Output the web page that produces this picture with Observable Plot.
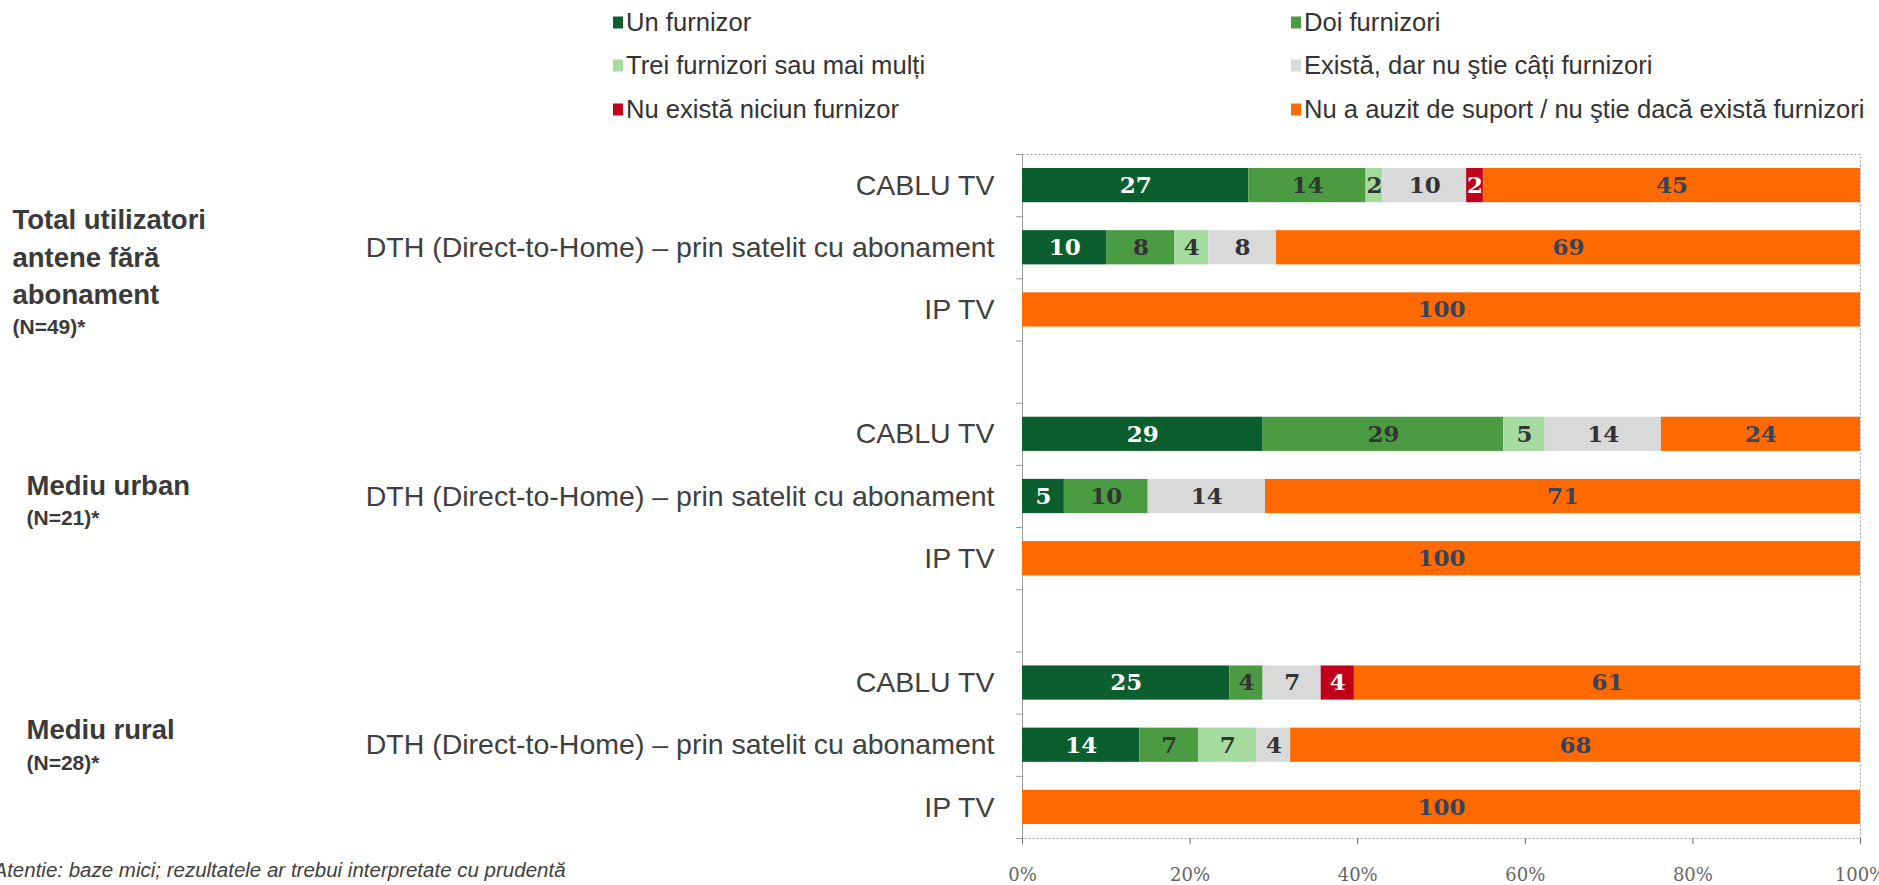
<!DOCTYPE html>
<html>
<head>
<meta charset="utf-8">
<script src="https://cdn.jsdelivr.net/npm/d3@7"></script>
<script src="https://cdn.jsdelivr.net/npm/@observablehq/plot@0.6"></script>
<style>
  body { margin: 0; background: #fff; font-family: "Liberation Sans", Arial, sans-serif; }
  #wrap { position: relative; width: 1879px; height: 885px; overflow: hidden; background: #fff; }
  #legend { position: absolute; left: 0; top: 0; width: 1879px; height: 130px; }
  .item { position: absolute; display: flex; align-items: center; font-size: 25.6px; color: #333; white-space: nowrap; transform: translateY(-50%); }
  .sw { display: inline-block; width: 10px; height: 12px; margin-right: 3px; }
  #chart { position: absolute; left: 0; top: 130px; }
</style>
</head>
<body>
<div id="wrap"><div id="legend"></div><div id="chart"></div></div>
<script>
// ---- data ----
const categories = [
  "Un furnizor",
  "Doi furnizori",
  "Trei furnizori sau mai mulți",
  "Există, dar nu ştie câți furnizori",
  "Nu există niciun furnizor",
  "Nu a auzit de suport / nu ştie dacă există furnizori"
];
const colors = ["#0b5e2d", "#4b9b42", "#a6dba0", "#d9d9d9", "#c0001b", "#ff6a00"];
const groupTitles = ["Total utilizatori\nantene fără\nabonament", "Mediu urban", "Mediu rural"];
const groupBases = ["(N=49)*", "(N=21)*", "(N=28)*"];
const services = ["CABLU TV", "DTH (Direct-to-Home) – prin satelit cu abonament", "IP TV"];
// rows: Total (CABLU, DTH, IPTV), Urban (CABLU, DTH, IPTV), Rural (CABLU, DTH, IPTV)
const unFurnizor    = [27, 10, 0, 29, 5, 0, 25, 14, 0];
const doiFurnizori  = [14, 8, 0, 29, 10, 0, 4, 7, 0];
const treiFurnizori = [2, 4, 0, 5, 0, 0, 0, 7, 0];
const existaNuStie  = [10, 8, 0, 14, 14, 0, 7, 4, 0];
const nuExista      = [2, 0, 0, 0, 0, 0, 4, 0, 0];
const nuAuzit       = [45, 69, 100, 24, 71, 100, 61, 68, 100];
const xTicks = [0, 0.2, 0.4, 0.6, 0.8, 1];
const footnote = "Atentie: baze mici; rezultatele ar trebui interpretate cu prudentă";

// ---- build tables ----
const series = [unFurnizor, doiFurnizori, treiFurnizori, existaNuStie, nuExista, nuAuzit];
const slots = [];
const rows = [];
groupTitles.forEach((g, gi) => {
  services.forEach((s, si) => {
    const key = gi + "|" + si;
    slots.push(key);
    rows.push({slot: key, service: s, gi, si});
  });
  if (gi < groupTitles.length - 1) slots.push("gap" + gi);
});
const data = [];
rows.forEach((r, ri) => categories.forEach((c, ci) => {
  const v = series[ci][ri];
  if (v > 0) data.push({slot: r.slot, cat: c, ci, value: v});
}));

// ---- legend (HTML above the chart) ----
const legend = document.getElementById("legend");
const legendRowY = [22, 65, 109];
categories.forEach((c, i) => {
  const el = document.createElement("div");
  el.className = "item";
  el.style.left = (i % 2 ? 1291 : 613) + "px";
  el.style.top = legendRowY[Math.floor(i / 2)] + "px";
  const sw = document.createElement("span");
  sw.className = "sw";
  sw.style.background = colors[i];
  el.appendChild(sw);
  el.appendChild(document.createTextNode(c));
  legend.appendChild(el);
});

// ---- chart ----
const W = 1879, H = 755, MT = 24, MB = 47, ML = 1022, MR = 19;
const step = (H - MT - MB) / slots.length;
const labelText = (test) => (d) => test(d) ? String(d.value) : "";
const labelMark = (test, fill) => Plot.text(data, Plot.stackX({
  x: "value", y: "slot", z: "cat", offset: "normalize",
  text: labelText(test), fill,
  fontFamily: "DejaVu Serif", fontWeight: "bold", fontSize: 23
}));
const groupDy = [7, -14, -18];
const baseDy = [79, 22, 18];
const groupX = [12, 26, 26];

const chart = Plot.plot({
  width: W, height: H,
  marginTop: MT, marginBottom: MB, marginLeft: ML, marginRight: MR,
  style: {fontFamily: "Liberation Sans, Arial, sans-serif", color: "#404040", background: "#fff", overflow: "visible"},
  x: {domain: [0, 1], axis: null, label: null},
  y: {type: "band", domain: slots, paddingInner: 0.45, paddingOuter: 0.225, round: false, axis: null, label: null},
  color: {domain: categories, range: colors},
  marks: [
    Plot.frame({stroke: "#a6a6a6", strokeDasharray: "2,2"}),
    Plot.ruleX([0], {stroke: "#999"}),
    Plot.ruleY(slots, {y: d => d, x1: -0.007, x2: 0, dy: -step / 2, stroke: "#999"}),
    Plot.ruleY(slots.slice(-1), {y: d => d, x1: -0.007, x2: 0, dy: step / 2, stroke: "#999"}),
    Plot.barX(data, Plot.stackX({x: "value", y: "slot", fill: "cat", offset: "normalize", order: categories})),
    labelMark(d => d.ci === 0 || d.ci === 4, "#ffffff"),
    labelMark(d => d.ci === 5, "#34435e"),
    labelMark(d => d.ci >= 1 && d.ci <= 3, "#333333"),
    Plot.text(rows, {y: "slot", text: "service", frameAnchor: "left", textAnchor: "end", dx: -28, fontSize: 28.5, fill: "#404040"}),
    ...groupTitles.map((t, gi) => Plot.text([t], {
      y: () => gi + "|1", text: d => d, frameAnchor: "left", textAnchor: "start",
      dx: groupX[gi] - ML, dy: groupDy[gi], fontWeight: "bold", fontSize: 27.5, lineHeight: 1.37, fill: "#3a3a3a"
    })),
    ...groupBases.map((t, gi) => Plot.text([t], {
      y: () => gi + "|1", text: d => d, frameAnchor: "left", textAnchor: "start",
      dx: groupX[gi] - ML, dy: baseDy[gi], fontWeight: "bold", fontSize: 21, fill: "#3a3a3a"
    })),
    Plot.axisX(xTicks, {tickFormat: d3.format(".0%"), tickSize: 6, tickPadding: 24, label: null,
      fontFamily: "DejaVu Serif", fontSize: 18, color: "#666"}),
    Plot.text([footnote], {text: d => d, frameAnchor: "bottom-left", textAnchor: "start",
      dx: -7 - ML, dy: 38, fontStyle: "italic", fontSize: 20.5, fill: "#404040"})
  ]
});
document.getElementById("chart").appendChild(chart);
</script>
</body>
</html>
